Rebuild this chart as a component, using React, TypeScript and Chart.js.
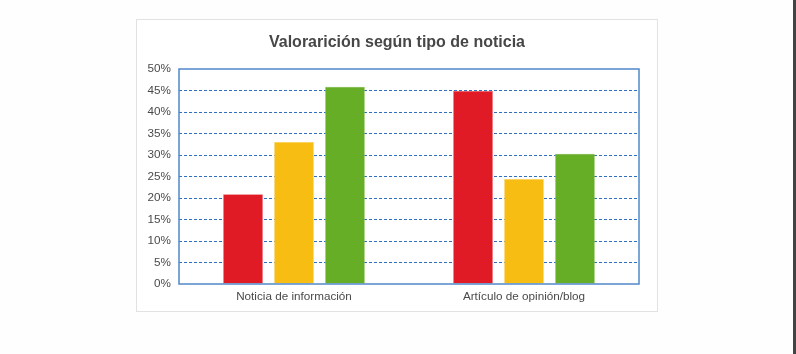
import React, { useEffect, useRef } from "react";
import { Chart, registerables } from "chart.js";

Chart.register(...registerables);

const title = "Valorarición según tipo de noticia";
const categories = ["Noticia de información", "Artículo de opinión/blog"];
const redValues = [20.9, 44.9];
const yellowValues = [33.0, 24.4];
const greenValues = [45.9, 30.3];
const yTicks = [0, 5, 10, 15, 20, 25, 30, 35, 40, 45, 50];

const frame = {
  id: "frame",
  afterDatasetsDraw(chart: any) {
    const { ctx, chartArea } = chart;
    ctx.save();
    ctx.strokeStyle = "#4f88c9";
    ctx.lineWidth = 1.5;
    ctx.strokeRect(chartArea.left, chartArea.top, chartArea.right - chartArea.left, chartArea.bottom - chartArea.top);
    ctx.restore();
  },
};

export default function App() {
  const ref = useRef<HTMLCanvasElement>(null);
  useEffect(() => {
    const c = new Chart(ref.current!, {
      type: "bar",
      data: {
        labels: categories,
        datasets: [
          { data: redValues, backgroundColor: "#e01b25", borderColor: "#ec5f66", borderWidth: 0.5 },
          { data: yellowValues, backgroundColor: "#f7bd13", borderColor: "#fbd46a", borderWidth: 0.5 },
          { data: greenValues, backgroundColor: "#67ae27", borderColor: "#95c96a", borderWidth: 0.5 },
        ],
      },
      options: {
        animation: false,
        responsive: false,
        maintainAspectRatio: false,
        datasets: { bar: { categoryPercentage: 0.665, barPercentage: 0.78 } },
        layout: { padding: { left: 0, right: 18, top: 49, bottom: 0 } },
        plugins: {
          legend: { display: false },
          tooltip: { enabled: false },
          title: { display: false },
        },
        scales: {
          x: {
            grid: { display: false, drawTicks: false },
            border: { display: false },
            ticks: {
              color: "#4a4a4a",
              font: { family: "Liberation Sans, Arial, sans-serif", size: 11.7 },
              padding: 6,
            },
            afterFit: (s: any) => { s.height = 27; },
          },
          y: {
            min: 0,
            max: 50,
            afterBuildTicks: (s: any) => { s.ticks = yTicks.map((v) => ({ value: v })); },
            grid: {
              color: (ctx: any) => (ctx.tick && (ctx.tick.value === 0 || ctx.tick.value === 50) ? "rgba(0,0,0,0)" : "#2f6fc0"),
              lineWidth: 1,
              drawTicks: false,
            },
            border: { display: false, dash: [3, 2] },
            ticks: {
              color: "#4a4a4a",
              font: { family: "Liberation Sans, Arial, sans-serif", size: 11.7 },
              padding: 8,
              callback: (v: any) => v + "%",
            },
            afterFit: (s: any) => { s.width = 42; },
          },
        },
      },
      plugins: [frame],
    });
    return () => c.destroy();
  }, []);
  return (
    <div style={{ position: "fixed", inset: 0, background: "#fefefe", margin: 0 }}>
      <div
        style={{
          position: "absolute",
          left: 136,
          top: 19,
          width: 520,
          height: 291,
          border: "1.5px solid #e2e2e2",
          background: "#ffffff",
        }}
      >
        <canvas ref={ref} width={520} height={291} style={{ display: "block" }} />
        <div
          style={{
            position: "absolute",
            left: 0,
            top: 12,
            width: 520,
            height: 20,
            lineHeight: "20px",
            textAlign: "center",
            fontFamily: "Liberation Sans, Arial, sans-serif",
            fontWeight: "bold",
            fontSize: 16,
            color: "#474747",
          }}
        >
          {title}
        </div>
      </div>
      <div style={{ position: "absolute", left: 793, top: 0, width: 3, height: 354, background: "#444" }} />
    </div>
  );
}
